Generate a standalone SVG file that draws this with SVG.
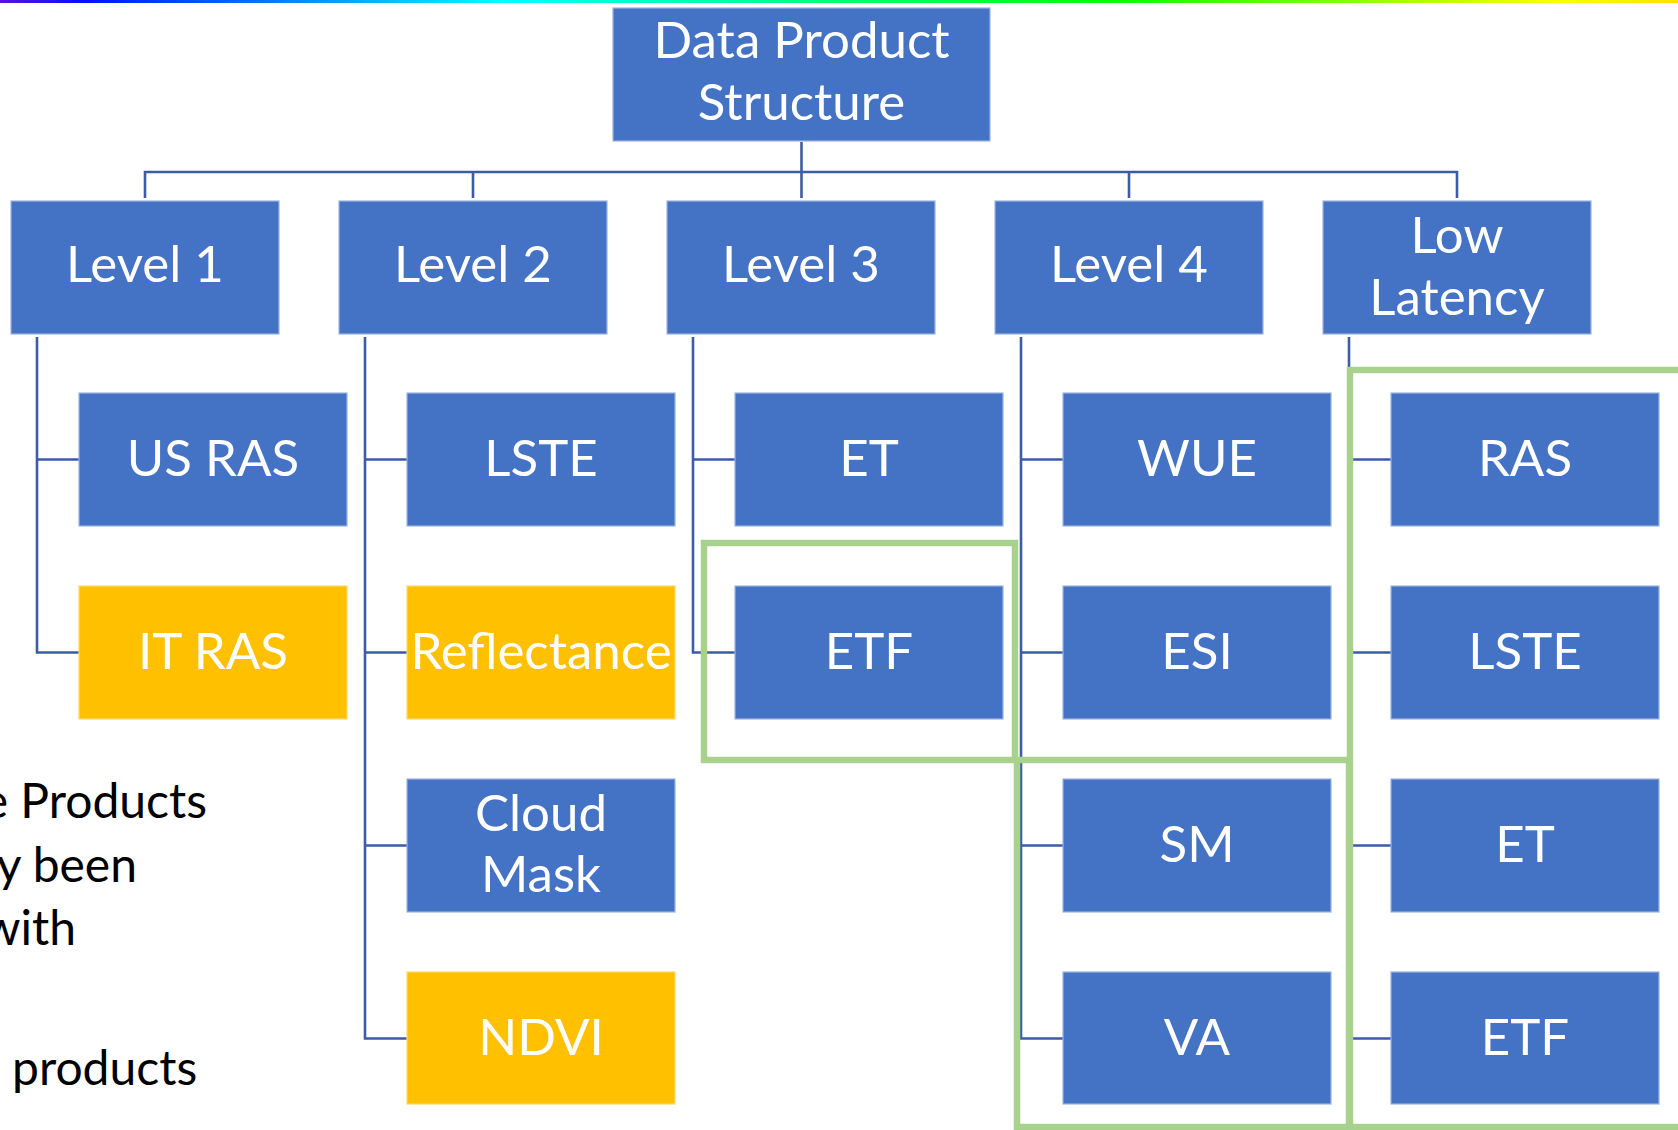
<svg xmlns="http://www.w3.org/2000/svg" width="1678" height="1130" viewBox="0 0 1678 1130">
<defs>
<linearGradient id="bar" x1="0" y1="0" x2="1" y2="0">
<stop offset="0" stop-color="#5a10e0"/>
<stop offset="0.05" stop-color="#0010ff"/>
<stop offset="0.30" stop-color="#00ffff"/>
<stop offset="0.66" stop-color="#00ff00"/>
<stop offset="0.93" stop-color="#ffff00"/>
<stop offset="1" stop-color="#ffe000"/>
</linearGradient>
<style>
.b{fill:#4472c4;stroke:#9db2e0;stroke-width:1.2}
.y{fill:#ffc000;stroke:#ffd966;stroke-width:1.2}
.t{font-family:Lato,"Noto Sans","Liberation Sans",sans-serif;font-size:51px;fill:#ffffff;text-anchor:middle}
.s{font-family:Lato,"Noto Sans","Liberation Sans",sans-serif;font-size:48px;fill:#000000;text-anchor:end}
.c{fill:none;stroke:#3c5da6;stroke-width:2.6}
.g{fill:none;stroke:#a9d18e;stroke-width:6.5}
</style>
</defs>
<rect x="0" y="0" width="1678" height="3" fill="url(#bar)"/>

<g id="side-text">
<text class="s" x="207" y="818">e Products</text>
<text class="s" x="137" y="882">y been</text>
<text class="s" x="76" y="945">with</text>
<text class="s" x="12" y="1085" style="text-anchor:start">products</text>
</g>

<g id="connectors">
<path class="c" d="M801.5,142 V172 M145,198 V172 H1457 V198 M473,172 V198 M801.5,172 V198 M1129,172 V198"/>
<path class="c" d="M37,337 V652.5 H79 M37,459.5 H79"/>
<path class="c" d="M365,337 V1038.5 H407 M365,459.5 H407 M365,652.5 H407 M365,845.5 H407"/>
<path class="c" d="M693,337 V652.5 H735 M693,459.5 H735"/>
<path class="c" d="M1021,337 V1038.5 H1063 M1021,459.5 H1063 M1021,652.5 H1063 M1021,845.5 H1063"/>
<path class="c" d="M1349,337 V1038.5 H1391 M1349,459.5 H1391 M1349,652.5 H1391 M1349,845.5 H1391"/>
</g>

<g id="root"><rect class="b" x="613" y="8" width="377" height="133"/>
<text class="t" x="801.5" y="58">Data Product</text><text class="t" x="801.5" y="120">Structure</text></g>

<g id="level1"><rect class="b" x="11" y="201" width="268" height="133"/><text class="t" x="145" y="282">Level 1</text></g>
<g id="level2"><rect class="b" x="339" y="201" width="268" height="133"/><text class="t" x="473" y="282">Level 2</text></g>
<g id="level3"><rect class="b" x="667" y="201" width="268" height="133"/><text class="t" x="801" y="282">Level 3</text></g>
<g id="level4"><rect class="b" x="995" y="201" width="268" height="133"/><text class="t" x="1129" y="282">Level 4</text></g>
<g id="lowlatency"><rect class="b" x="1323" y="201" width="268" height="133"/><text class="t" x="1457" y="252.5">Low</text><text class="t" x="1457" y="314.5">Latency</text></g>

<g id="l1-usras"><rect class="b" x="79" y="393" width="268" height="133"/><text class="t" x="213" y="476">US RAS</text></g>
<g id="l1-itras"><rect class="y" x="79" y="586" width="268" height="133"/><text class="t" x="213" y="669">IT RAS</text></g>

<g id="l2-lste"><rect class="b" x="407" y="393" width="268" height="133"/><text class="t" x="541" y="476">LSTE</text></g>
<g id="l2-reflectance"><rect class="y" x="407" y="586" width="268" height="133"/><text class="t" x="541" y="669">Reflectance</text></g>
<g id="l2-cloudmask"><rect class="b" x="407" y="779" width="268" height="133"/><text class="t" x="541" y="830.5">Cloud</text><text class="t" x="541" y="891.5">Mask</text></g>
<g id="l2-ndvi"><rect class="y" x="407" y="972" width="268" height="132"/><text class="t" x="541" y="1055">NDVI</text></g>

<g id="l3-et"><rect class="b" x="735" y="393" width="268" height="133"/><text class="t" x="869" y="476">ET</text></g>
<g id="l3-etf"><rect class="b" x="735" y="586" width="268" height="133"/><text class="t" x="869" y="669">ETF</text></g>

<g id="l4-wue"><rect class="b" x="1063" y="393" width="268" height="133"/><text class="t" x="1197" y="476">WUE</text></g>
<g id="l4-esi"><rect class="b" x="1063" y="586" width="268" height="133"/><text class="t" x="1197" y="669">ESI</text></g>
<g id="l4-sm"><rect class="b" x="1063" y="779" width="268" height="133"/><text class="t" x="1197" y="862">SM</text></g>
<g id="l4-va"><rect class="b" x="1063" y="972" width="268" height="132"/><text class="t" x="1197" y="1055">VA</text></g>

<g id="ll-ras"><rect class="b" x="1391" y="393" width="268" height="133"/><text class="t" x="1525" y="476">RAS</text></g>
<g id="ll-lste"><rect class="b" x="1391" y="586" width="268" height="133"/><text class="t" x="1525" y="669">LSTE</text></g>
<g id="ll-et"><rect class="b" x="1391" y="779" width="268" height="133"/><text class="t" x="1525" y="862">ET</text></g>
<g id="ll-etf"><rect class="b" x="1391" y="972" width="268" height="132"/><text class="t" x="1525" y="1055">ETF</text></g>

<g id="highlights">
<rect class="g" x="704" y="543" width="311" height="217"/>
<rect class="g" x="1017" y="760" width="332" height="367"/>
<rect class="g" x="1350" y="370" width="340" height="757"/>
</g>
</svg>
